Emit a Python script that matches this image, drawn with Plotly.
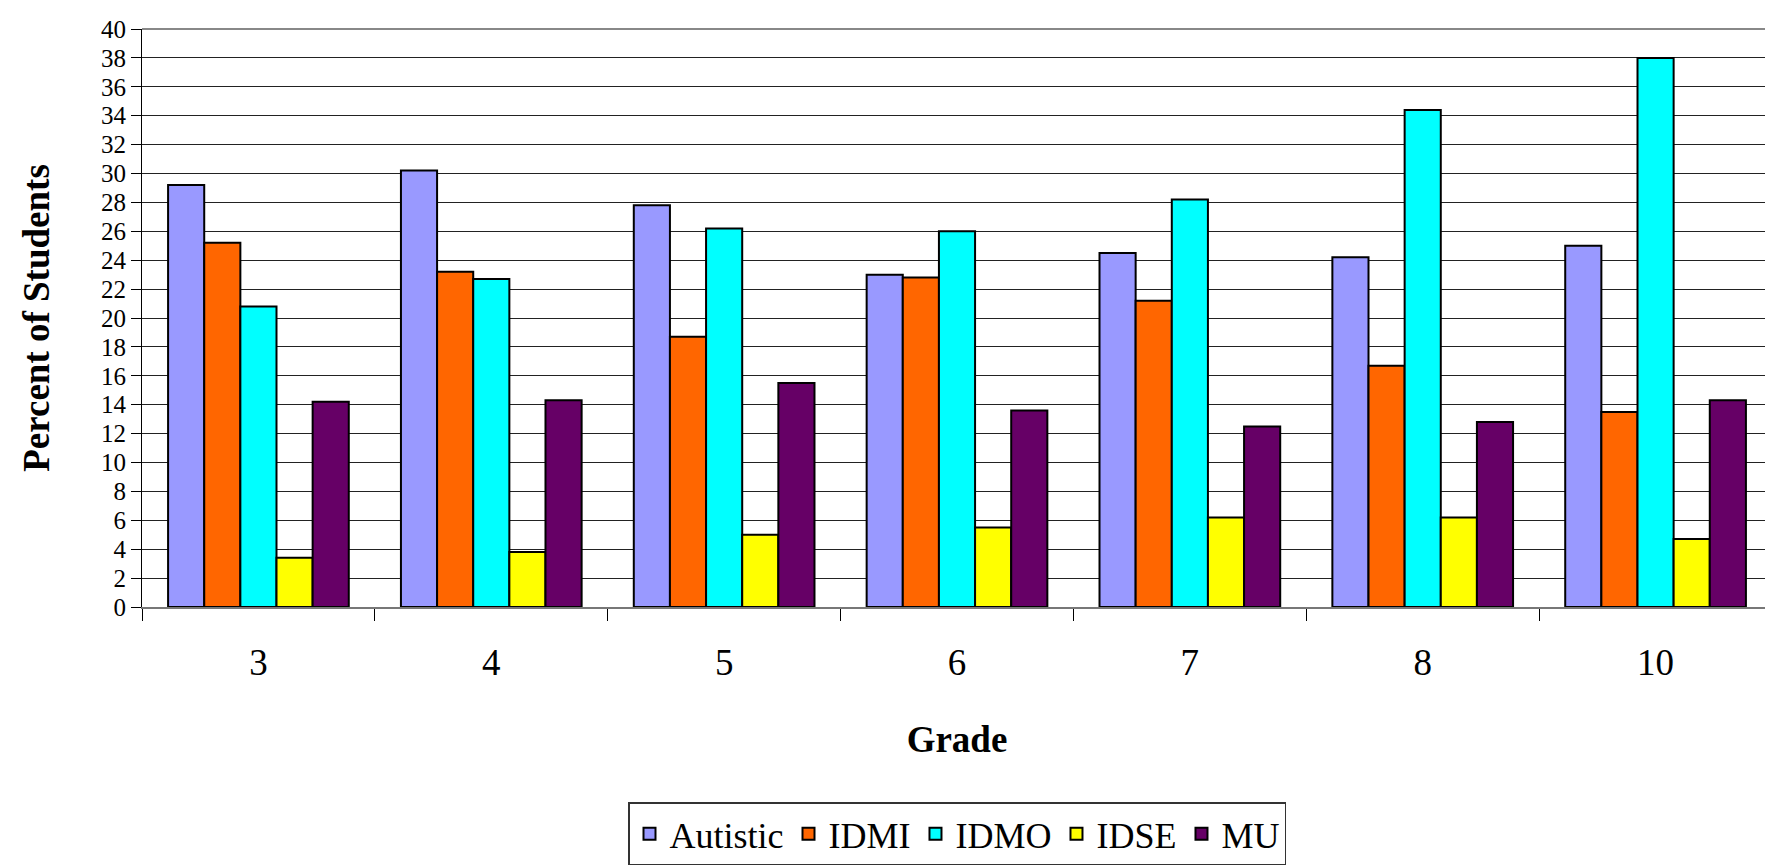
import plotly.graph_objects as go

grades = ["3", "4", "5", "6", "7", "8", "10"]
autistic = [29.2, 30.2, 27.8, 23.0, 24.5, 24.2, 25.0]
idmi = [25.2, 23.2, 18.7, 22.8, 21.2, 16.7, 13.5]
idmo = [20.8, 22.7, 26.2, 26.0, 28.2, 34.4, 38.0]
idse = [3.4, 3.8, 5.0, 5.5, 6.2, 6.2, 4.7]
mu = [14.2, 14.3, 15.5, 13.6, 12.5, 12.8, 14.3]

series = [
    ("Autistic", autistic, "#9999FF"),
    ("IDMI", idmi, "#FF6600"),
    ("IDMO", idmo, "#00FFFF"),
    ("IDSE", idse, "#FFFF00"),
    ("MU", mu, "#660066"),
]

FONT = "Liberation Serif, Times New Roman, serif"

fig = go.Figure()
for name, vals, color in series:
    fig.add_trace(go.Bar(
        x=grades, y=vals, name=name,
        marker=dict(color=color, line=dict(color="black", width=2)),
    ))

fig.update_layout(
    width=1773, height=866,
    margin=dict(l=134, r=9, t=21, b=260),
    paper_bgcolor="white", plot_bgcolor="white",
    barmode="group", bargap=0.224, bargroupgap=0,
    font=dict(family=FONT, size=30, color="black"),
    legend=dict(
        orientation="h", x=0.5, xanchor="center", y=-0.338, yanchor="top",
        bordercolor="#333333", borderwidth=1.5, font=dict(size=36, family=FONT),
        tracegroupgap=0,
    ),
    showlegend=True,
)

fig.update_xaxes(
    type="category", showline=True, linecolor="#777777", linewidth=2,
    ticks="outside", tickson="boundaries", ticklen=12, tickcolor="black",
    showgrid=False, ticklabelstandoff=22,
    tickfont=dict(size=37, family=FONT),
    title=dict(text="<b>Grade</b>", font=dict(size=37, family=FONT), standoff=44),
)
fig.update_yaxes(
    range=[0, 40], dtick=2, showline=True, linecolor="black", linewidth=1,
    ticks="outside", ticklen=10, tickcolor="black",
    showgrid=True, gridcolor="#222222", gridwidth=1, zeroline=False,
    tickfont=dict(size=25, family=FONT),
    title=dict(text="<b>Percent of Students</b>", font=dict(size=37, family=FONT), standoff=40),
)

fig.add_shape(type="line", xref="paper", yref="paper", x0=0, x1=1, y0=1, y1=1,
              line=dict(color="#888888", width=2))
fig.add_shape(type="line", xref="paper", yref="paper", x0=1, x1=1, y0=0, y1=1,
              line=dict(color="#888888", width=2))

fig.write_html("out.html")
